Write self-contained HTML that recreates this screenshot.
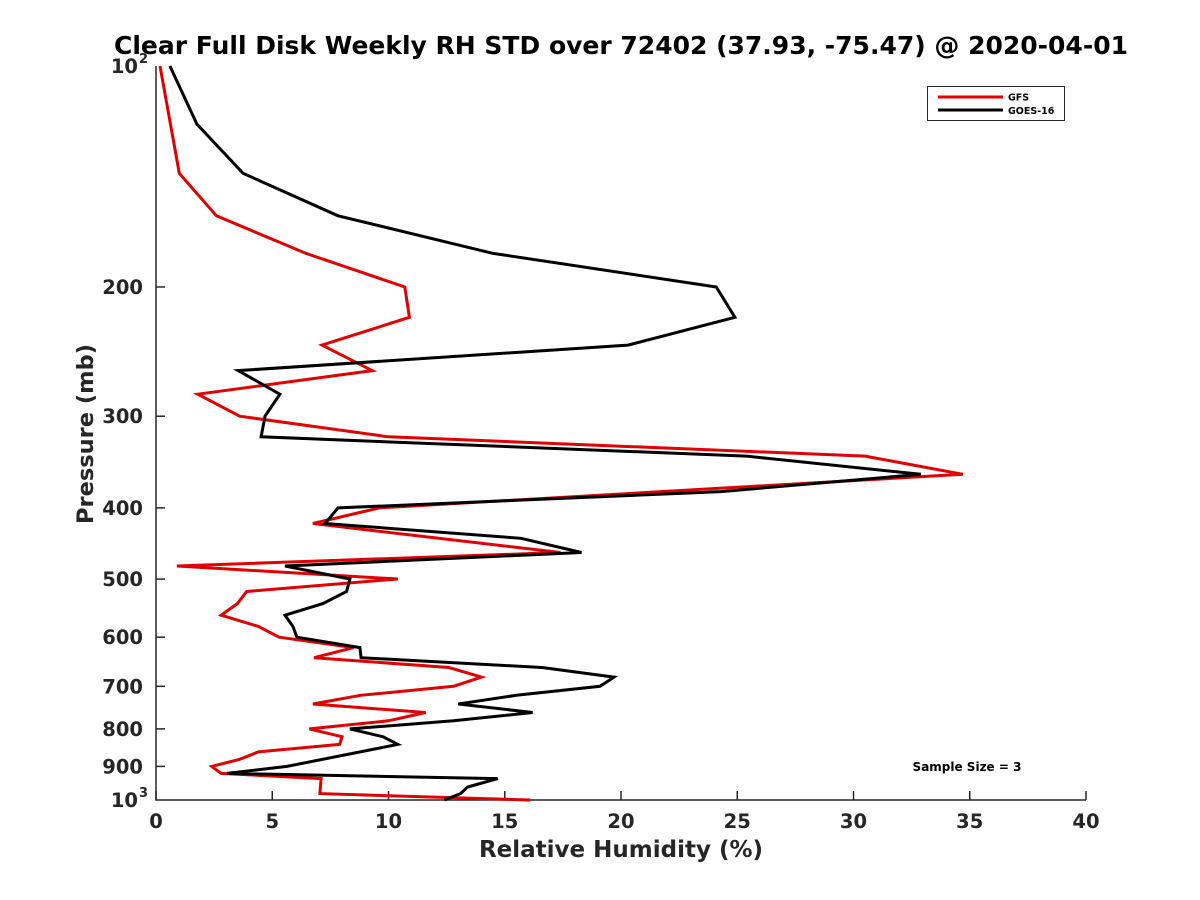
<!DOCTYPE html>
<html><head><meta charset="utf-8"><style>
body{margin:0;background:#fff;}
svg{display:block;font-family:"DejaVu Sans","Liberation Sans",sans-serif;}
</style></head><body>
<svg id="chart" width="1200" height="900" viewBox="0 0 1200 900">
<rect width="1200" height="900" fill="#fff"/>
<text x="621" y="54" text-anchor="middle" font-size="25" font-weight="bold" fill="#000">Clear Full Disk Weekly RH STD over 72402 (37.93, -75.47) @ 2020-04-01</text>
<g id="axes"></g>
<g id="series"></g>
<g>
<rect x="927.5" y="86.5" width="137" height="34" fill="#fff" stroke="#262626" stroke-width="1"/>
<line x1="938" y1="97" x2="1003" y2="97" stroke="#e00000" stroke-width="3"/>
<text x="1008" y="100.5" font-size="9.5" font-weight="bold" fill="#000">GFS</text>
<line x1="938" y1="110" x2="1003" y2="110" stroke="#000" stroke-width="3"/>
<text x="1008" y="114" font-size="9.5" font-weight="bold" fill="#000">GOES-16</text>
</g>
<text x="967" y="771" text-anchor="middle" font-size="12" font-weight="bold" fill="#000">Sample Size = 3</text>
<text x="621" y="857" text-anchor="middle" font-size="23" font-weight="bold" fill="#262626">Relative Humidity (%)</text>
<text transform="translate(93,434) rotate(-90)" text-anchor="middle" font-size="22.5" font-weight="bold" fill="#262626">Pressure (mb)</text>
</svg>
<script>
const xTicks=[0,5,10,15,20,25,30,35,40];
const yTicks=[200,300,400,500,600,700,800,900];
const gfsP=[100,140,160,180,200,220,240,260,280,300,320,340,360,400,420,460,480,500,520,540,560,580,600,620,640,660,680,700,720,740,760,780,800,820,840,860,880,900,920,935,980,1000];
const gfsRH=[0.17,1.0,2.6,6.45,10.7,10.9,7.14,9.3,1.8,3.6,10.0,30.5,34.7,9.6,6.75,17.4,0.9,10.4,3.9,3.5,2.8,4.4,5.3,8.5,6.8,12.6,14.0,12.8,8.8,6.75,11.6,10.0,6.6,8.0,7.9,4.4,3.6,2.4,2.8,7.1,7.05,16.1];
const goesP=[100,120,140,160,180,200,220,240,260,280,300,320,340,360,380,400,420,440,460,480,500,520,540,560,580,600,620,640,660,680,700,720,740,760,780,800,820,840,900,920,935,960,980,1000];
const goesRH=[0.6,1.76,3.74,7.83,14.5,24.1,24.9,20.3,3.53,5.33,4.69,4.52,25.4,32.9,24.3,7.83,7.27,15.7,18.3,5.55,8.34,8.2,7.18,5.55,5.89,6.06,8.77,8.82,16.6,19.7,19.1,15.5,13.0,16.2,12.8,8.34,9.76,10.4,5.63,3.05,14.7,13.4,13.1,12.4];
const X0=156,X1=1086,Y0=66,Y1=800;
const xs=v=>X0+(v-0)/40*(X1-X0);
const ys=p=>Y0+Math.log10(p/100)*(Y1-Y0);
const NS='http://www.w3.org/2000/svg';
const axes=document.getElementById('axes'),ser=document.getElementById('series');
function mk(tag,attrs,parent){const e=document.createElementNS(NS,tag);for(const k in attrs)e.setAttribute(k,attrs[k]);parent.appendChild(e);return e;}
const ax=mk('path',{d:`M${X0},${Y0}V${Y1}H${X1}`,fill:'none',stroke:'#262626','stroke-width':1.5},axes);


xTicks.forEach(t=>{
 const x=xs(t);
 const l=mk('line',{x1:x,y1:Y1,x2:x,y2:Y1-9,stroke:'#262626','stroke-width':1.5},axes);
 
 
 const tx=mk('text',{x:x,y:Y1+28,'text-anchor':'middle','font-size':19.5,'font-weight':'bold',fill:'#262626'},axes);
 tx.textContent=t;
 
 
});
yTicks.forEach(t=>{
 const y=ys(t);
 const l=mk('line',{x1:X0,y1:y,x2:X0+9,y2:y,stroke:'#262626','stroke-width':1.5},axes);
 
 
 const tx=mk('text',{x:143,y:y+7,'text-anchor':'end','font-size':19.5,'font-weight':'bold',fill:'#262626'},axes);
 tx.textContent=t;
 
 
});
[[100,'2'],[1000,'3']].forEach(([p,s])=>{
 const y=ys(p);
 const tx=mk('text',{x:138,y:y+7,'text-anchor':'end','font-size':19.5,'font-weight':'bold',fill:'#262626'},axes);
 tx.textContent='10';
 
 
 const sp=mk('text',{x:139,y:y-3,'font-size':13,'font-weight':'bold',fill:'#262626'},axes);
 sp.textContent=s;
 
 
});
function line(P,V,color,name){
 const d=P.map((p,i)=>(i?'L':'M')+xs(V[i]).toFixed(1)+','+ys(p).toFixed(1)).join('');
 const e=mk('path',{d:d,fill:'none',stroke:color,'stroke-width':3,'stroke-linejoin':'miter'},ser);
 
 
}
line(gfsP,gfsRH,'#e00000','gfs-line');
line(goesP,goesRH,'#000','goes16-line');
</script>
</body></html>
